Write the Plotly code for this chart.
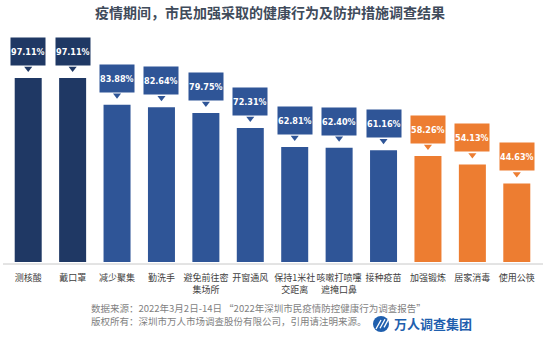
import plotly.graph_objects as go

# Survey results: share of residents adopting each health / protection measure
categories = ["测核酸", "戴口罩", "减少聚集", "勤洗手", "避免前往密<br>集场所", "开窗通风",
              "保持1米社<br>交距离", "咳嗽打喷嚏<br>遮掩口鼻", "接种疫苗", "加强锻炼", "居家消毒", "使用公筷"]
values = [97.11, 97.11, 83.88, 82.64, 79.75, 72.31, 62.81, 62.40, 61.16, 58.26, 54.13, 44.63]

title_text = "疫情期间，市民加强采取的健康行为及防护措施调查结果"
source_lines = ["数据来源：2022年3月2日-14日 “2022年深圳市民疫情防控健康行为调查报告”",
                "版权所有：深圳市万人市场调查股份有限公司，引用请注明来源。"]
brand = "万人调查集团"

NAVY, BLUE, ORANGE = "#1f3864", "#2f5597", "#ed7d31"
bar_colors = [NAVY] * 2 + [BLUE] * 7 + [ORANGE] * 3

W, H = 554, 344
ML, MR, MT, MB = 6, 15, 40, 82
PW, PH = W - ML - MR, H - MT - MB
Y0, Y1 = 5.5, 116.1
PX_PER_UNIT = PH / (Y1 - Y0)


def px_x(px):
    return (px - ML) / PW


def px_y(py):
    return (H - MB - py) / PH


CJK = "Noto Sans CJK SC, Noto Sans, sans-serif"
NARROW = "DejaVu Sans Condensed, Liberation Sans Narrow, Roboto Condensed, Roboto, sans-serif"

fig = go.Figure()
fig.add_trace(go.Bar(
    x=list(range(len(categories))), y=values,
    marker=dict(color=bar_colors, line=dict(width=0)),
    hoverinfo="skip",
))

# little pointer under each value callout
fig.add_trace(go.Scatter(
    x=list(range(len(categories))),
    y=[v + 9.5 / PX_PER_UNIT for v in values],
    mode="markers",
    marker=dict(symbol="triangle-down", size=7, color=bar_colors, line=dict(width=0)),
    hoverinfo="skip", cliponaxis=False,
))

annotations = []
for i, v in enumerate(values):
    annotations.append(dict(
        x=i, y=v, xref="x", yref="y", text=f"{v:.2f}%", showarrow=False,
        yanchor="bottom", xanchor="center", yshift=12,
        bgcolor=bar_colors[i], borderpad=0, height=27,
        font=dict(family=NARROW, size=9, color="white", weight="bold"),
    ))

# source / copyright lines
for line, py in zip(source_lines, (308, 320.5)):
    annotations.append(dict(
        x=px_x(89), y=px_y(py), xref="paper", yref="paper",
        text=line, showarrow=False, align="left",
        xanchor="left", yanchor="middle",
        font=dict(family=CJK, size=9.5, color="#7f7f7f"),
    ))
annotations.append(dict(
    x=px_x(392), y=px_y(323), xref="paper", yref="paper",
    text=f"<b>{brand}</b>", showarrow=False, xanchor="left", yanchor="middle",
    font=dict(family=CJK, size=13, color="#1f5fae"),
))

shapes = [
    # base line under the bars
    dict(type="line", xref="paper", yref="paper",
         x0=px_x(3), x1=px_x(543), y0=px_y(264), y1=px_y(264),
         line=dict(color="#c8c8c8", width=1)),
    # brand mark
    dict(type="circle", xref="paper", yref="paper",
         x0=px_x(373), x1=px_x(389), y0=px_y(332), y1=px_y(316),
         fillcolor="#1f5fae", line=dict(width=0)),
]
for d in (0, 4, 8):
    shapes.append(dict(type="line", xref="paper", yref="paper",
                       x0=px_x(376 + d), y0=px_y(329 - d * 0.2),
                       x1=px_x(381 + d), y1=px_y(320 - d * 0.2),
                       line=dict(color="white", width=1.3)))

fig.update_layout(
    width=W, height=H,
    margin=dict(l=ML, r=MR, t=MT, b=MB, pad=0),
    paper_bgcolor="white", plot_bgcolor="white",
    showlegend=False, bargap=0.392,
    title=dict(text=title_text, x=270 / W, xref="container", xanchor="center",
               y=1 - 13 / H, yref="container", yanchor="middle",
               font=dict(family=CJK, size=14, color="#3f4b5b", weight="bold")),
    xaxis=dict(tickmode="array", tickvals=list(range(len(categories))), ticktext=categories,
               range=[-0.5, len(categories) - 0.5], showgrid=False, zeroline=False,
               showline=False, ticks="", ticklabelstandoff=9, tickangle=0,
               tickfont=dict(family=CJK, size=9, color="#404040")),
    yaxis=dict(range=[Y0, Y1], visible=False, showgrid=False, zeroline=False),
    annotations=annotations, shapes=shapes,
)

fig.write_html("out.html")
